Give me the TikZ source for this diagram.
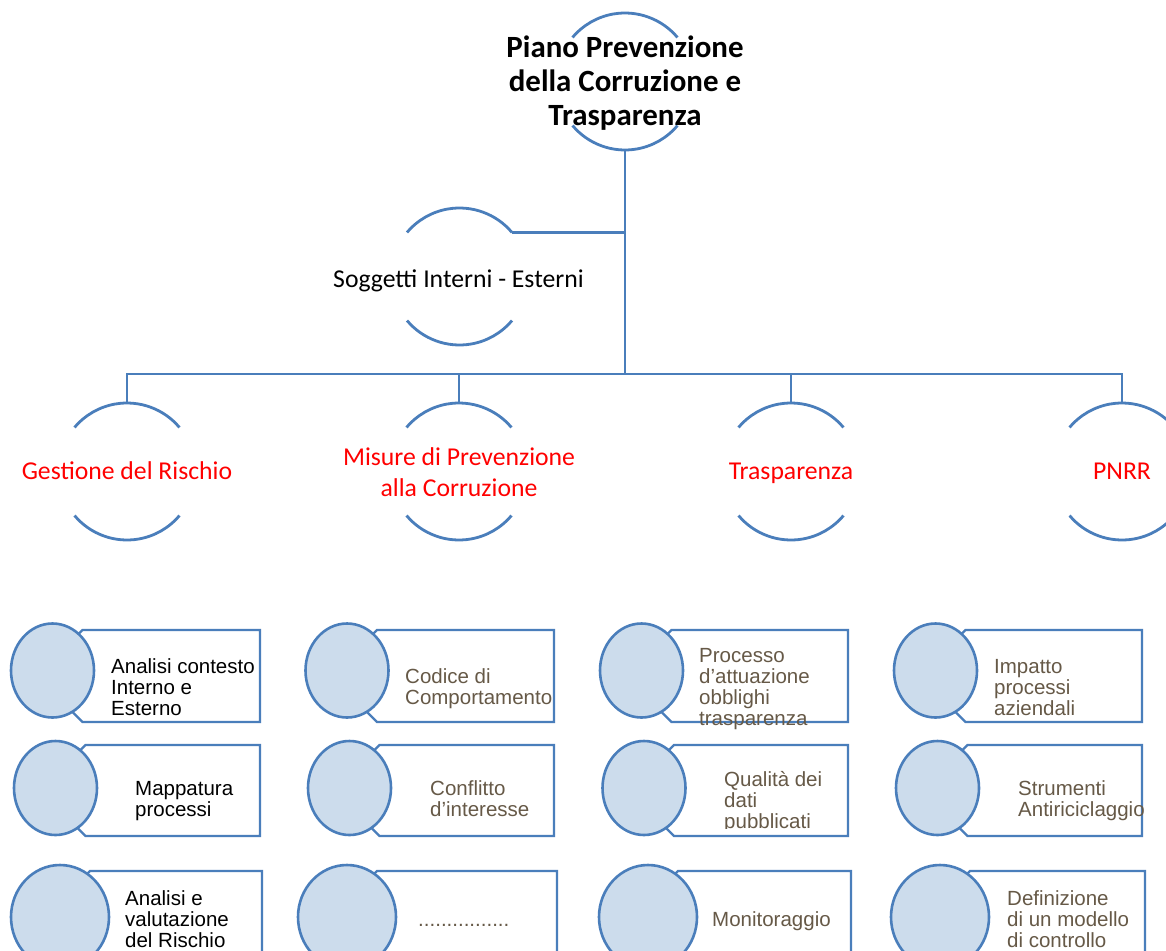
\documentclass[tikz,border=0pt]{standalone}
\usepackage{fontspec}
\setmainfont{Liberation Sans}
\newfontfamily\calibri{Carlito}
\usetikzlibrary{shapes.geometric}
\definecolor{lineblue}{RGB}{74,126,187}
\definecolor{fillblue}{RGB}{204,220,236}
\definecolor{txtbrown}{RGB}{102,89,71}
\newcommand{\ml}[2][l]{\begin{tabular}[t]{@{}#1@{}}#2\end{tabular}}
\tikzset{
  hub/.style={circle, minimum size=137pt, inner sep=0pt, outer sep=0pt},
  arcline/.style={draw=lineblue, line width=2.8pt},
  conn/.style={draw=lineblue, line width=2.8pt},
  boxline/.style={draw=lineblue, line width=2.4pt, fill=white},
  dot/.style={ellipse, draw=lineblue, fill=fillblue, line width=2.6pt, inner sep=0pt, outer sep=0pt},
  hubtext/.style={anchor=base, inner sep=0pt, font=\calibri\fontsize{25.7}{31}\selectfont},
  redlabel/.style={hubtext, text=red},
  itemtext/.style={anchor=base west, inner sep=0pt, font=\fontsize{20.5}{21}\selectfont},
  blk/.style={itemtext, text=black},
  brn/.style={itemtext, text=txtbrown},
}
\newcommand{\itembox}[8]{%
  \draw[boxline] (#2,-#6-30) -- (#2+30,-#6) -- (#8,-#6) -- (#8,-#7) -- (#2+30,-#7) -- (#2,-#7+30) -- cycle;
  \node[dot, minimum width=#4*2pt, minimum height=#5*2pt] (#1) at (#2,-#3) {};
}
\begin{document}
\begin{tikzpicture}[x=1pt,y=1pt]
\clip (0,0) rectangle (1166,-950);
\fill[white] (0,0) rectangle (1166,-950);
\coordinate (bar) at (0,-374);

% top hub
\node[hub] (t) at (625,-81.5) {};
\draw[arcline] (t.40) arc[start angle=40, end angle=140, radius=68.5];
\draw[arcline] (t.220) arc[start angle=220, end angle=320, radius=68.5];
\node[anchor=base, inner sep=0pt, font=\calibri\bfseries\fontsize{30.9}{34}\selectfont] (tl) at (625,-57)
  {\ml[c]{Piano Prevenzione\\della Corruzione e\\Trasparenza}};

% soggetti
\node[hub] (s) at (459.5,-276.5) {};
\draw[arcline] (s.40) arc[start angle=40, end angle=140, radius=68.5];
\draw[arcline] (s.220) arc[start angle=220, end angle=320, radius=68.5];
\node[hubtext] (sl) at (458.5,-287) {Soggetti Interni - Esterni};

% level 2
\foreach \n/\x in {g/127, m/459, tr/791, p/1122}{
  \node[hub] (\n) at (\x,-471.5) {};
  \draw[arcline] (\n.40) arc[start angle=40, end angle=140, radius=68.5];
  \draw[arcline] (\n.220) arc[start angle=220, end angle=320, radius=68.5];
}
\node[redlabel] (gl) at (127,-479) {Gestione del Rischio};
\node[redlabel] (ml) at (459,-465) {\ml[c]{Misure di Prevenzione\\alla Corruzione}};
\node[redlabel] (trl) at (791,-479) {Trasparenza};
\node[redlabel] (pl) at (1122,-479) {PNRR};

% connectors
\draw[conn] (t.south) -- (t.south |- bar);
\draw[conn] (s.40) -- (s.40 -| t.south);
\draw[conn] (g.north) -- (g.north |- bar) -- (p.north |- bar) -- (p.north);
\draw[conn] (m.north) -- (m.north |- bar);
\draw[conn] (tr.north) -- (tr.north |- bar);

% row 1
\itembox{c11}{52.5}{670.5}{41.5}{47}{630}{722}{260}
\itembox{c12}{347}{670.5}{41.5}{47}{630}{722}{554}
\itembox{c13}{641.5}{670.5}{41.5}{47}{630}{722}{848}
\itembox{c14}{935.5}{670.5}{41.5}{47}{630}{722}{1142}
\node[blk] (x11) at (111,-673) {\ml{Analisi contesto\\Interno e\\Esterno}};
\node[brn] (x12) at (405,-683) {\ml{Codice di\\Comportamento}};
\node[brn] (x13) at (699,-662) {\ml{Processo\\d’attuazione\\obblighi\\trasparenza}};
\node[brn] (x14) at (994,-673) {\ml{Impatto\\processi\\aziendali}};

% row 2
\itembox{c21}{55.5}{788}{41.5}{47}{745}{836}{260}
\itembox{c22}{349.5}{788}{41.5}{47}{745}{836}{554}
\itembox{c23}{644}{788}{41.5}{47}{745}{836}{848}
\itembox{c24}{937.5}{788}{41.5}{47}{745}{836}{1142}
\node[blk] (x21) at (135,-795) {\ml{Mappatura\\processi}};
\node[brn] (x22) at (430,-795) {\ml{Conflitto\\d’interesse}};
\begin{scope}
\clip (700,-760) rectangle (860,-828);
\node[brn] (x23) at (724,-786) {\ml{Qualità dei\\dati\\pubblicati}};
\end{scope}
\node[brn] (x24) at (1018,-795) {\ml{Strumenti\\Antiriciclaggio}};

% row 3
\itembox{c31}{60}{917}{49}{52}{871}{1000}{262}
\itembox{c32}{347}{917}{49}{52}{871}{1000}{557}
\itembox{c33}{648}{917}{49}{52}{871}{1000}{851}
\itembox{c34}{940}{917}{49}{52}{871}{1000}{1145}
\node[blk] (x31) at (125,-905) {\ml{Analisi e\\valutazione\\del Rischio}};
\node[brn] (x32) at (418,-926) {................};
\node[brn] (x33) at (712,-926) {Monitoraggio};
\node[brn] (x34) at (1007,-905) {\ml{Definizione\\di un modello\\di controllo}};
\end{tikzpicture}
\end{document}
